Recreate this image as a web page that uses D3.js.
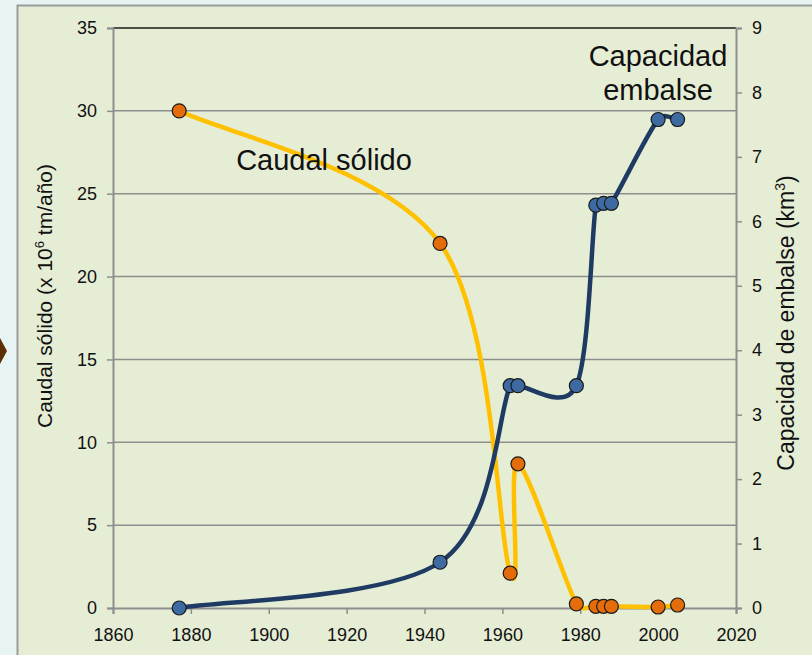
<!DOCTYPE html>
<html><head><meta charset="utf-8">
<script src="https://cdn.jsdelivr.net/npm/d3@7"></script>
<style>
html,body{margin:0;padding:0;background:#e8f3f4;}
svg{display:block;font-family:"Liberation Sans",Arial,sans-serif;}
</style></head>
<body>
<script>
// ---- data ----
const years = [1877, 1944, 1962, 1964, 1979, 1984, 1986, 1988, 2000, 2005];
const caudalSolido = [30, 22, 2.1, 8.7, 0.25, 0.1, 0.1, 0.1, 0.06, 0.18];
const capacidadEmbalse = [0, 0.71, 3.45, 3.45, 3.45, 6.25, 6.28, 6.28, 7.58, 7.58];
const xTicks = [1860, 1880, 1900, 1920, 1940, 1960, 1980, 2000, 2020];
const leftTicks = [0, 5, 10, 15, 20, 25, 30, 35];
const rightTicks = [0, 1, 2, 3, 4, 5, 6, 7, 8, 9];

const W = 812, H = 655;
const m = {l:113, r:76, t:28, b:47};
const FONT = '"Liberation Sans",Arial,sans-serif';
const svg = d3.select("body").append("svg").attr("width", W).attr("height", H);

// outer background + panel
svg.append("rect").attr("width", W).attr("height", H).attr("fill", "#e8f3f4");
svg.append("path").attr("d", "M0,338 L7,351 L0,364 Z").attr("fill", "#5e2f05");
svg.append("rect").attr("x", 17.5).attr("y", 5.5).attr("width", W).attr("height", H)
  .attr("fill", "#e6edd5").attr("stroke", "#9a9a9a").attr("stroke-width", 2);

const x = d3.scaleLinear().domain([1860, 2020]).range([m.l, W - m.r]);
const yL = d3.scaleLinear().domain([0, 35]).range([H - m.b, m.t]);
const yR = d3.scaleLinear().domain([0, 9]).range([H - m.b, m.t]);

// gridlines
svg.append("g").selectAll("line").data(leftTicks.filter(d => d > 0 && d < 35)).join("line")
  .attr("x1", m.l).attr("x2", W - m.r).attr("y1", d => yL(d)).attr("y2", d => yL(d))
  .attr("stroke", "#8e8e8e").attr("stroke-width", 1.5);
svg.append("line").attr("x1", m.l).attr("x2", W - m.r).attr("y1", yL(35)).attr("y2", yL(35))
  .attr("stroke", "#1a1a1a").attr("stroke-width", 1.5);

// axes
function styleAxis(g){
  g.selectAll("path").attr("stroke", "#8e8e8e").attr("stroke-width", 2);
  g.selectAll("line").attr("stroke", "#8e8e8e").attr("stroke-width", 1.5);
  g.selectAll("text").attr("fill", "#111").style("font-size", "18px").style("font-family", FONT);
}
svg.append("g").attr("transform", `translate(0,${H - m.b})`)
  .call(d3.axisBottom(x).tickValues(xTicks).tickFormat(d3.format("d")).tickSizeOuter(0).tickSize(6).tickPadding(14))
  .call(styleAxis);
svg.append("g").attr("transform", `translate(${m.l},0)`)
  .call(d3.axisLeft(yL).tickValues(leftTicks).tickSizeOuter(0).tickSize(6).tickPadding(10))
  .call(styleAxis);
svg.append("g").attr("transform", `translate(${W - m.r},0)`)
  .call(d3.axisRight(yR).tickValues(rightTicks).tickSizeOuter(0).tickSize(6).tickPadding(10))
  .call(styleAxis);

// Excel-like smoothed line (Bezier with limited control-point distance)
function smoothPath(pts){
  const p = d3.path();
  const n = pts.length;
  const dist = (a, b) => Math.hypot(a[0] - b[0], a[1] - b[1]);
  p.moveTo(pts[0][0], pts[0][1]);
  for (let i = 0; i < n - 1; i++){
    const P0 = pts[Math.max(i - 1, 0)], P1 = pts[i], P2 = pts[i + 1], P3 = pts[Math.min(i + 2, n - 1)];
    const d12 = dist(P1, P2), d02 = dist(P0, P2), d13 = dist(P1, P3);
    const f1 = d02 > 0 ? Math.min(1/6, d12 / (2 * d02)) : 0;
    const f2 = d13 > 0 ? Math.min(1/6, d12 / (2 * d13)) : 0;
    p.bezierCurveTo(P1[0] + f1 * (P2[0] - P0[0]), P1[1] + f1 * (P2[1] - P0[1]),
                    P2[0] - f2 * (P3[0] - P1[0]), P2[1] - f2 * (P3[1] - P1[1]),
                    P2[0], P2[1]);
  }
  return p.toString();
}
const orangePts = caudalSolido.map((d, i) => [x(years[i]), yL(d)]);
const bluePts = capacidadEmbalse.map((d, i) => [x(years[i]), yR(d)]);

svg.append("path").attr("d", smoothPath(orangePts))
  .attr("fill", "none").attr("stroke", "#ffc000").attr("stroke-width", 4.5);
svg.append("path").attr("d", smoothPath(bluePts))
  .attr("fill", "none").attr("stroke", "#1f3b63").attr("stroke-width", 4.5);

svg.append("g").selectAll("circle").data(caudalSolido).join("circle")
  .attr("cx", (d,i) => x(years[i])).attr("cy", d => yL(d)).attr("r", 7)
  .attr("fill", "#e46c0a").attr("stroke", "#1a1a1a").attr("stroke-width", 1.2);
svg.append("g").selectAll("circle").data(capacidadEmbalse).join("circle")
  .attr("cx", (d,i) => x(years[i])).attr("cy", d => yR(d)).attr("r", 7)
  .attr("fill", "#3d6aa3").attr("stroke", "#1a1a1a").attr("stroke-width", 1.2);

// annotations
svg.append("text").attr("x", 324).attr("y", 170).attr("text-anchor", "middle")
  .style("font-size", "29px").attr("fill", "#111").text("Caudal sólido");
svg.append("text").attr("x", 658).attr("y", 66).attr("text-anchor", "middle")
  .style("font-size", "29px").attr("fill", "#111").text("Capacidad");
svg.append("text").attr("x", 658).attr("y", 100).attr("text-anchor", "middle")
  .style("font-size", "29px").attr("fill", "#111").text("embalse");

// axis titles
const lt = svg.append("text").attr("transform", "translate(52,296) rotate(-90)")
  .attr("text-anchor", "middle").style("font-size", "21px").attr("fill", "#111");
lt.append("tspan").text("Caudal sólido (x 10");
lt.append("tspan").attr("dy", -8).style("font-size", "13px").text("6");
lt.append("tspan").attr("dy", 8).text(" tm/año)");

const rt = svg.append("text").attr("transform", "translate(794,323) rotate(-90)")
  .attr("text-anchor", "middle").style("font-size", "23px").attr("fill", "#111");
rt.append("tspan").text("Capacidad de embalse (km");
rt.append("tspan").attr("dy", -9).style("font-size", "14px").text("3");
rt.append("tspan").attr("dy", 9).text(")");
</script>
</body></html>
